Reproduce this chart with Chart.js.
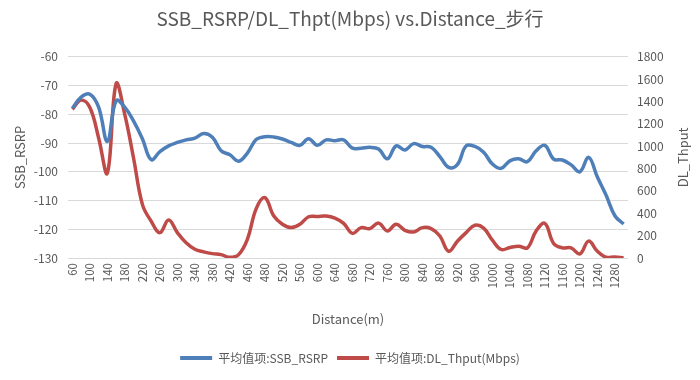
<!DOCTYPE html>
<html>
<head>
<meta charset="utf-8">
<script src="https://cdn.jsdelivr.net/npm/chart.js@4/dist/chart.umd.min.js"></script>
<style>
html,body{margin:0;padding:0;background:#fff;}
#wrap{width:700px;height:380px;position:relative;}
</style>
</head>
<body>
<div id="wrap"><canvas id="c" width="700" height="380"></canvas></div>
<script>
const distances = [60,80,100,120,140,160,180,200,220,240,260,280,300,320,340,360,380,400,420,440,460,470,480,500,520,540,560,580,600,620,640,660,680,700,720,740,760,780,800,820,840,860,880,900,920,940,960,980,1000,1020,1040,1060,1080,1100,1120,1140,1160,1180,1200,1220,1240,1260,1280,1300];
const ssbRsrp = [-77.9,-74,-73,-77.5,-89.4,-75.3,-77.6,-82.4,-88.5,-95.8,-93,-91,-89.8,-88.9,-88.3,-86.7,-88,-92.7,-94.1,-96.3,-93.5,-88.8,-87.8,-87.9,-88.6,-89.8,-90.8,-88.5,-90.8,-88.9,-89.2,-88.9,-91.8,-91.8,-91.5,-92.1,-95.5,-91,-92.4,-90.2,-91.2,-91.5,-94.7,-98.5,-97.5,-91,-91.2,-93.2,-97.3,-98.8,-96.2,-95.5,-96.5,-92.7,-90.8,-95.6,-95.9,-97.6,-100,-95,-101.8,-108.2,-115.3,-118.2];
const dlThpt = [1331,1413,1346,1074,760,1560,1280,890,480,330,227,340,227,136,78,55,39,30,6,30,166,440,540,378,302,272,302,369,372,375,357,310,220,272,263,312,242,302,248,233,272,263,197,60,150,227,293,268,160,76,94,106,91,242,310,130,91,91,36,151,60,6,9,0];
const rsrpTicks = [-130,-120,-110,-100,-90,-80,-70,-60];
const thptTicks = [0,200,400,600,800,1000,1200,1400,1600,1800];
const seriesNames = ['平均值项:SSB_RSRP','平均值项:DL_Thput(Mbps)'];
const titleText = 'SSB_RSRP/DL_Thpt(Mbps) vs.Distance_步行';

const FONT = '"Noto Sans CJK SC", "Noto Sans", sans-serif';
const TXT = '#595959';
Chart.defaults.font.family = FONT;
Chart.defaults.color = TXT;

const rightTitle = {
  id: 'rightTitle',
  afterDraw(chart) {
    const ctx = chart.ctx;
    ctx.save();
    ctx.font = '13px ' + FONT;
    ctx.fillStyle = TXT;
    ctx.textAlign = 'center';
    ctx.textBaseline = 'middle';
    const y = (chart.chartArea.top + chart.chartArea.bottom) / 2;
    ctx.translate(683, y);
    ctx.rotate(-Math.PI / 2);
    ctx.fillText('DL_Thput', 0, 0);
    ctx.restore();
  }
};

new Chart(document.getElementById('c'), {
  type: 'line',
  data: {
    labels: distances.map(String),
    datasets: [
      {label: seriesNames[0], data: ssbRsrp, yAxisID: 'y', borderColor: '#4f7fb8', backgroundColor: '#4f7fb8', borderWidth: 3.5, pointRadius: 0, tension: 0.4},
      {label: seriesNames[1], data: dlThpt, yAxisID: 'y1', borderColor: '#be4b48', backgroundColor: '#be4b48', borderWidth: 3.5, pointRadius: 0, tension: 0.4}
    ]
  },
  options: {
    responsive: false,
    animation: false,
    layout: {padding: {left: 0, right: 0, top: 0, bottom: 6}},
    plugins: {
      title: {display: true, text: titleText, color: TXT, font: {size: 19, weight: 'normal'}, padding: {top: 7, bottom: 27}},
      legend: {
        position: 'bottom',
        labels: {
          boxWidth: 32, boxHeight: 4, padding: 9, color: TXT, font: {size: 12},
          generateLabels(chart) {
            return Chart.defaults.plugins.legend.labels.generateLabels(chart).map(it => Object.assign(it, {lineWidth: 0, strokeStyle: 'rgba(0,0,0,0)'}));
          }
        }
      },
      tooltip: {enabled: false}
    },
    scales: {
      x: {
        offset: true,
        grid: {display: false, drawTicks: false},
        border: {display: false},
        ticks: {
          autoSkip: false, maxRotation: 90, minRotation: 90, padding: 5, color: TXT, font: {size: 11.5},
          callback: (v, i) => (i % 2 === 0 ? String(distances[i]) : '')
        },
        title: {display: true, text: 'Distance(m)', color: TXT, font: {size: 13}, padding: {top: 0, bottom: 16}},
        afterFit: s => { s.height = 85; }
      },
      y: {
        position: 'left',
        min: -130, max: -60,
        afterBuildTicks: s => { s.ticks = rsrpTicks.map(v => ({value: v})); },
        grid: {color: '#d9d9d9', lineWidth: 1, drawTicks: false},
        border: {display: false},
        ticks: {padding: 10, color: TXT, font: {size: 12}, callback: v => String(v)},
        title: {display: true, text: 'SSB_RSRP', color: TXT, font: {size: 13}, padding: {top: 12, bottom: 0}},
        afterFit: s => { s.width = 68; }
      },
      y1: {
        position: 'right',
        min: 0, max: 1800,
        afterBuildTicks: s => { s.ticks = thptTicks.map(v => ({value: v})); },
        grid: {drawOnChartArea: false, drawTicks: false},
        border: {display: false},
        ticks: {padding: 9, color: TXT, font: {size: 12}, callback: v => String(v)},
        afterFit: s => { s.width = 72; }
      }
    }
  },
  plugins: [rightTitle]
});
</script>
</body>
</html>
